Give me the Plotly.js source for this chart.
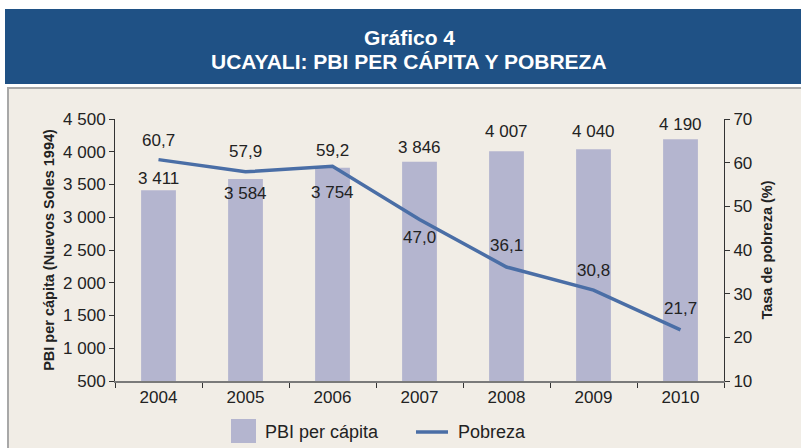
<!DOCTYPE html>
<html>
<head>
<meta charset="utf-8">
<script src="https://cdn.plot.ly/plotly-3.0.1.min.js"></script>
<style>
html,body{margin:0;padding:0;background:#ffffff;}
#chart{width:801px;height:448px;}
</style>
</head>
<body>
<div id="chart"></div>
<script>
const years = ['2004','2005','2006','2007','2008','2009','2010'];
const pbiPerCapita = [3411, 3584, 3754, 3846, 4007, 4040, 4190];
const pobreza = [60.7, 57.9, 59.2, 47.0, 36.1, 30.8, 21.7];
const leftTicks = [500, 1000, 1500, 2000, 2500, 3000, 3500, 4000, 4500];
const rightTicks = [10, 20, 30, 40, 50, 60, 70];
const pbiLabelShift = [12, -14, -25, 14, 20, 18, 15];
const pobrezaLabelShift = [19, 20, 16, -18, 22, 20, 21];

const barColor = '#b4b5cf';
const lineColor = '#4a6ea6';
const txt = '#222222';
const font = 'Liberation Sans, Arial, sans-serif';

function fmtThousands(v){
  const s = String(Math.round(v));
  return s.replace(/\B(?=(\d{3})+(?!\d))/g, ' ');
}
function fmtDec(v){ return v.toFixed(1).replace('.', ','); }

// plot area in pixels: x 115..724, y 119..381
const L = 115, R = 724, T = 119, B = 381, W = 801, H = 448;
const px = x => (x - L) / (R - L);
const py = y => (B - y) / (B - T);

const traces = [
  {type:'bar', x:years, y:pbiPerCapita, name:'PBI per cápita',
   marker:{color:barColor}, width:0.4, hoverinfo:'skip', showlegend:false},
  {type:'scatter', mode:'lines', x:years, y:pobreza, name:'Pobreza', yaxis:'y2',
   line:{color:lineColor, width:3.5}, hoverinfo:'skip', showlegend:false}
];

const annotations = [];
years.forEach((yr,i)=>{
  annotations.push({x:i, y:pbiPerCapita[i], xref:'x', yref:'y', text:fmtThousands(pbiPerCapita[i]),
    xanchor:'center', yanchor:'middle',
    showarrow:false, yshift:pbiLabelShift[i], font:{family:font, size:17, color:txt}});
  annotations.push({x:i, y:pobreza[i], xref:'x', yref:'y2', text:fmtDec(pobreza[i]),
    xanchor:'center', yanchor:'middle',
    showarrow:false, yshift:pobrezaLabelShift[i], font:{family:font, size:17, color:txt}});
});
// title
annotations.push({xref:'paper', yref:'paper', x:px(409), y:py(37), xanchor:'center', yanchor:'middle',
  text:'<b>Gráfico 4</b>', showarrow:false, font:{family:font, size:21, color:'#ffffff'}});
annotations.push({xref:'paper', yref:'paper', x:px(409), y:py(62), xanchor:'center', yanchor:'middle',
  text:'<b>UCAYALI: PBI PER CÁPITA Y POBREZA</b>', showarrow:false, font:{family:font, size:21, color:'#ffffff'}});
// legend texts
annotations.push({xref:'paper', yref:'paper', x:px(263), y:py(432), xanchor:'left', yanchor:'middle',
  text:'PBI per cápita', showarrow:false, font:{family:font, size:18, color:txt}});
annotations.push({xref:'paper', yref:'paper', x:px(456), y:py(432), xanchor:'left', yanchor:'middle',
  text:'Pobreza', showarrow:false, font:{family:font, size:18, color:txt}});

const shapes = [
  {type:'rect', xref:'paper', yref:'paper', x0:px(5), x1:px(801), y0:py(84), y1:py(9),
   fillcolor:'#1f5185', line:{width:0}, layer:'below'},
  {type:'rect', xref:'paper', yref:'paper', x0:px(8), x1:px(803), y0:py(452), y1:py(88),
   fillcolor:'#f1ede6', line:{color:'#a8a8a8', width:2}, layer:'below'},
  {type:'rect', xref:'paper', yref:'paper', x0:px(231), x1:px(256), y0:py(443), y1:py(419),
   fillcolor:barColor, line:{width:0}},
  {type:'line', xref:'paper', yref:'paper', x0:px(416), x1:px(448), y0:py(432), y1:py(432),
   line:{color:lineColor, width:3.5}}
];

const layout = {
  width:W, height:H,
  margin:{l:L, r:W-R, t:T, b:H-B, pad:0},
  paper_bgcolor:'#ffffff', plot_bgcolor:'rgba(0,0,0,0)',
  font:{family:font, size:17, color:txt},
  showlegend:false,
  xaxis:{type:'category', categoryorder:'array', categoryarray:years, range:[-0.5, years.length-0.5],
    showgrid:false, zeroline:false, showline:true, linecolor:'#7a7a7a', linewidth:2,
    ticks:'outside', ticklen:5, tickcolor:'#333', tickson:'boundaries', tickangle:0,
    tickfont:{family:font, size:17, color:txt}, fixedrange:true},
  yaxis:{range:[500,4500], tickmode:'array', tickvals:leftTicks, ticktext:leftTicks.map(fmtThousands),
    showgrid:false, zeroline:false,
    showline:true, linecolor:'#333', linewidth:1, ticks:'outside', ticklen:5, tickcolor:'#333',
    tickfont:{family:font, size:17, color:txt},
    title:{text:'<b>PBI per cápita (Nuevos Soles 1994)</b>', font:{family:font, size:14.5, color:txt}, standoff:4},
    automargin:false, fixedrange:true},
  yaxis2:{range:[10,70], tickmode:'array', tickvals:rightTicks, ticktext:rightTicks.map(String),
    overlaying:'y', side:'right', showgrid:false, zeroline:false,
    showline:true, linecolor:'#333', linewidth:1, ticks:'outside', ticklen:5, tickcolor:'#333',
    tickfont:{family:font, size:17, color:txt},
    title:{text:'<b>Tasa de pobreza (%)</b>', font:{family:font, size:14.5, color:txt}, standoff:10},
    automargin:false, fixedrange:true},
  annotations:annotations,
  shapes:shapes
};

Plotly.newPlot('chart', traces, layout, {displayModeBar:false, staticPlot:true});
</script>
</body>
</html>
